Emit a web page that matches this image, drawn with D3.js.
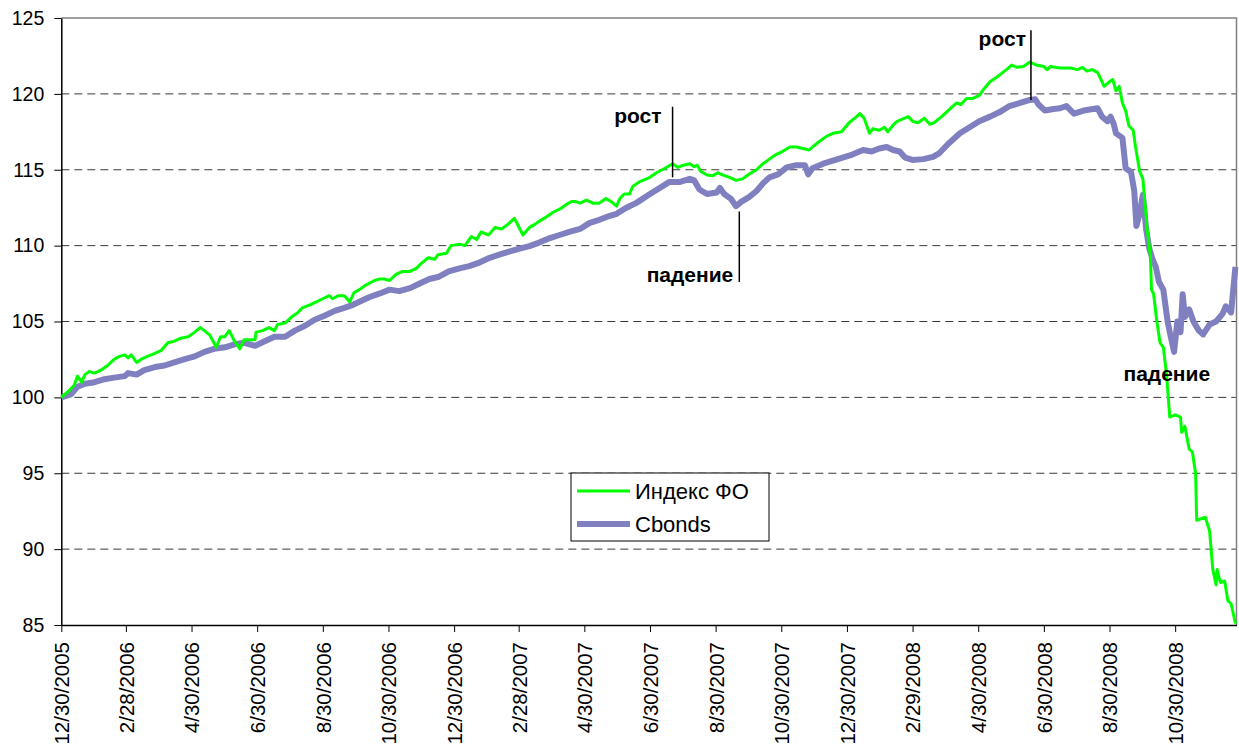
<!DOCTYPE html>
<html>
<head>
<meta charset="utf-8">
<script src="https://cdn.jsdelivr.net/npm/d3@7"></script>
<style>
    body { margin: 0; background: #fff; }
    text { font-family: Arial, "Liberation Sans", sans-serif; }
</style>
</head>
<body>
<div id="chart"></div>
<script>

// Индекс ФО (green)
var foDates = [
    "2005-12-30","2006-01-07","2006-01-11","2006-01-14","2006-01-18","2006-01-21","2006-01-25","2006-01-30","2006-02-05","2006-02-11",
    "2006-02-17","2006-02-22","2006-02-27","2006-03-02","2006-03-05","2006-03-10","2006-03-14","2006-03-20","2006-03-27","2006-04-02",
    "2006-04-08","2006-04-14","2006-04-20","2006-04-27","2006-05-03","2006-05-08","2006-05-12","2006-05-17","2006-05-23","2006-05-27",
    "2006-05-31","2006-06-04","2006-06-09","2006-06-14","2006-06-18","2006-06-23","2006-06-28","2006-06-29","2006-07-05","2006-07-11",
    "2006-07-16","2006-07-19","2006-07-26","2006-08-01","2006-08-07","2006-08-11","2006-08-18","2006-08-24","2006-08-30","2006-09-05",
    "2006-09-08","2006-09-13","2006-09-19","2006-09-24","2006-09-28","2006-10-03","2006-10-09","2006-10-17","2006-10-22","2006-10-26",
    "2006-10-31","2006-11-06","2006-11-12","2006-11-19","2006-11-25","2006-11-29","2006-12-06","2006-12-12","2006-12-15","2006-12-23",
    "2006-12-27","2007-01-04","2007-01-09","2007-01-15","2007-01-20","2007-01-24","2007-01-31","2007-02-06","2007-02-12","2007-02-18",
    "2007-02-24","2007-03-04","2007-03-10","2007-03-15","2007-03-19","2007-03-26","2007-04-01","2007-04-07","2007-04-13","2007-04-18",
    "2007-04-22","2007-04-26","2007-05-02","2007-05-08","2007-05-14","2007-05-20","2007-05-25","2007-05-30","2007-06-02","2007-06-06",
    "2007-06-11","2007-06-14","2007-06-20","2007-06-30","2007-07-06","2007-07-14","2007-07-21","2007-07-26","2007-07-31","2007-08-06",
    "2007-08-10","2007-08-13","2007-08-16","2007-08-22","2007-08-27","2007-09-01","2007-09-06","2007-09-12","2007-09-18","2007-09-24",
    "2007-09-30","2007-10-07","2007-10-13","2007-10-19","2007-10-25","2007-10-31","2007-11-07","2007-11-13","2007-11-19","2007-11-25",
    "2007-11-28","2007-12-05","2007-12-11","2007-12-17","2007-12-25","2008-01-01","2008-01-08","2008-01-11","2008-01-15","2008-01-20",
    "2008-01-23","2008-01-29","2008-02-03","2008-02-06","2008-02-11","2008-02-15","2008-02-20","2008-02-25","2008-02-29","2008-03-05",
    "2008-03-11","2008-03-16","2008-03-20","2008-03-27","2008-04-02","2008-04-10","2008-04-14","2008-04-19","2008-04-25","2008-05-01",
    "2008-05-05","2008-05-11","2008-05-20","2008-05-28","2008-05-31","2008-06-05","2008-06-11","2008-06-17","2008-06-23","2008-06-30",
    "2008-07-03","2008-07-06","2008-07-15","2008-07-25","2008-07-31","2008-08-05","2008-08-09","2008-08-14","2008-08-19","2008-08-22",
    "2008-08-25","2008-08-30","2008-09-02","2008-09-05","2008-09-08","2008-09-11","2008-09-14","2008-09-17","2008-09-21","2008-09-23",
    "2008-09-27","2008-09-30","2008-10-01","2008-10-04","2008-10-07","2008-10-08","2008-10-10","2008-10-13","2008-10-16","2008-10-19",
    "2008-10-22","2008-10-25","2008-10-30","2008-11-04","2008-11-05","2008-11-08","2008-11-12","2008-11-15","2008-11-18","2008-11-19",
    "2008-11-27","2008-12-01","2008-12-04","2008-12-07","2008-12-08","2008-12-11","2008-12-15","2008-12-18","2008-12-21","2008-12-25"
];
var foValues = [
    100.0, 100.5, 100.8, 101.4, 101.0, 101.5, 101.7, 101.6, 101.8, 102.1,
    102.5, 102.7, 102.8, 102.6, 102.8, 102.3, 102.5, 102.7, 102.9, 103.1,
    103.6, 103.7, 103.9, 104.0, 104.3, 104.6, 104.4, 104.1, 103.3, 104.0,
    104.0, 104.4, 103.7, 103.2, 103.8, 103.8, 103.8, 104.3, 104.4, 104.6,
    104.4, 104.8, 104.9, 105.3, 105.6, 105.9, 106.1, 106.3, 106.5, 106.7,
    106.5, 106.7, 106.7, 106.3, 106.9, 107.1, 107.4, 107.7, 107.8, 107.8,
    107.7, 108.1, 108.3, 108.3, 108.5, 108.8, 109.2, 109.1, 109.4, 109.5,
    110.0, 110.1, 110.0, 110.6, 110.4, 110.9, 110.7, 111.2, 111.1, 111.4,
    111.8, 110.7, 111.2, 111.4, 111.6, 111.9, 112.2, 112.4, 112.7, 112.9,
    112.9, 112.8, 113.0, 112.8, 112.8, 113.1, 112.9, 112.6, 113.1, 113.4,
    113.4, 113.9, 114.2, 114.5, 114.8, 115.1, 115.4, 115.15, 115.3, 115.4,
    115.2, 115.3, 114.9, 114.65, 114.6, 114.8, 114.65, 114.5, 114.3, 114.4,
    114.7, 115.0, 115.4, 115.7, 116.0, 116.2, 116.5, 116.5, 116.4, 116.3,
    116.5, 116.9, 117.2, 117.4, 117.5, 118.1, 118.5, 118.7, 118.4, 117.4,
    117.7, 117.6, 117.8, 117.5, 117.95, 118.2, 118.35, 118.5, 118.2, 118.1,
    118.4, 118.0, 118.1, 118.5, 118.9, 119.4, 119.3, 119.7, 119.7, 119.9,
    120.3, 120.8, 121.25, 121.7, 121.9, 121.75, 121.8, 122.1, 121.9, 121.8,
    121.6, 121.8, 121.7, 121.7, 121.6, 121.75, 121.5, 121.6, 121.4, 120.95,
    120.5, 120.8, 120.95, 120.2, 120.5, 119.4, 118.9, 117.9, 117.6, 116.6,
    114.9, 114.4, 113.6, 111.1, 109.3, 107.1, 106.8, 105.0, 103.6, 103.3,
    101.5, 98.7, 98.85, 98.7, 97.7, 98.1, 96.6, 96.4, 95.0, 91.9,
    92.1, 91.2, 88.65, 87.65, 88.65, 87.8, 87.9, 86.6, 86.4, 85.1
];

// Cbonds (violet)
var cbDates = [
    "2005-12-30","2006-01-08","2006-01-14","2006-01-21","2006-01-30","2006-02-08","2006-02-17","2006-02-27","2006-03-02","2006-03-10",
    "2006-03-17","2006-03-27","2006-04-05","2006-04-14","2006-04-23","2006-05-03","2006-05-12","2006-05-21","2006-05-31","2006-06-09",
    "2006-06-18","2006-06-28","2006-07-07","2006-07-16","2006-07-26","2006-08-04","2006-08-13","2006-08-22","2006-09-01","2006-09-10",
    "2006-09-19","2006-09-27","2006-10-03","2006-10-12","2006-10-22","2006-10-31","2006-11-09","2006-11-19","2006-11-28","2006-12-07",
    "2006-12-16","2006-12-25","2007-01-04","2007-01-13","2007-01-23","2007-02-01","2007-02-10","2007-02-19","2007-03-01","2007-03-10",
    "2007-03-19","2007-03-29","2007-04-07","2007-04-16","2007-04-26","2007-05-05","2007-05-14","2007-05-23","2007-05-30","2007-06-08",
    "2007-06-17","2007-06-30","2007-07-09","2007-07-18","2007-07-28","2007-08-06","2007-08-10","2007-08-15","2007-08-22","2007-08-31",
    "2007-09-03","2007-09-07","2007-09-13","2007-09-18","2007-09-23","2007-09-30","2007-10-07","2007-10-13","2007-10-19","2007-10-27",
    "2007-11-04","2007-11-13","2007-11-21","2007-11-24","2007-11-28","2007-12-08","2007-12-17","2007-12-26","2008-01-04","2008-01-14",
    "2008-01-22","2008-01-29","2008-02-05","2008-02-11","2008-02-17","2008-02-22","2008-02-29","2008-03-10","2008-03-19","2008-03-25",
    "2008-04-02","2008-04-13","2008-04-22","2008-05-01","2008-05-11","2008-05-20","2008-05-29","2008-06-08","2008-06-17","2008-06-22",
    "2008-06-25","2008-07-01","2008-07-09","2008-07-15","2008-07-21","2008-07-28","2008-08-06","2008-08-19","2008-08-23","2008-08-28",
    "2008-08-31","2008-09-03","2008-09-05","2008-09-11","2008-09-14","2008-09-19","2008-09-22","2008-09-24","2008-09-27","2008-09-30",
    "2008-10-03","2008-10-06","2008-10-09","2008-10-12","2008-10-15","2008-10-19","2008-10-23","2008-10-25","2008-10-29","2008-11-01",
    "2008-11-04","2008-11-06","2008-11-08","2008-11-12","2008-11-16","2008-11-21","2008-11-25","2008-12-01","2008-12-07","2008-12-13",
    "2008-12-16","2008-12-21","2008-12-25"
];
var cbValues = [
    100.0, 100.2, 100.7, 100.9, 101.0, 101.2, 101.3, 101.4, 101.6, 101.5,
    101.8, 102.0, 102.1, 102.3, 102.5, 102.7, 103.0, 103.2, 103.3, 103.5,
    103.6, 103.4, 103.7, 104.0, 104.0, 104.4, 104.7, 105.1, 105.4, 105.7,
    105.9, 106.1, 106.3, 106.6, 106.85, 107.1, 107.0, 107.2, 107.5, 107.8,
    107.95, 108.3, 108.5, 108.65, 108.9, 109.2, 109.4, 109.6, 109.8, 109.97,
    110.2, 110.5, 110.7, 110.9, 111.1, 111.5, 111.7, 111.95, 112.1, 112.5,
    112.8, 113.4, 113.8, 114.2, 114.2, 114.4, 114.3, 113.7, 113.4, 113.5,
    113.8, 113.4, 113.1, 112.6, 112.9, 113.2, 113.6, 114.1, 114.5, 114.7,
    115.15, 115.3, 115.3, 114.7, 115.1, 115.4, 115.6, 115.8, 116.0, 116.3,
    116.2, 116.4, 116.5, 116.3, 116.2, 115.8, 115.65, 115.7, 115.85, 116.1,
    116.7, 117.4, 117.8, 118.2, 118.5, 118.8, 119.2, 119.4, 119.6, 119.65,
    119.3, 118.9, 119.0, 119.05, 119.2, 118.7, 118.9, 119.05, 118.5, 118.2,
    118.5, 118.0, 117.4, 117.1, 115.1, 114.85, 113.6, 111.3, 112.1, 113.35,
    111.1, 109.8, 109.1, 108.6, 107.6, 107.1, 105.0, 104.3, 103.0, 105.0,
    104.3, 106.8, 105.3, 105.8, 105.0, 104.4, 104.15, 104.8, 105.0, 105.5,
    106.0, 105.6, 108.6
];

var seriesNames = ["Индекс ФО", "Cbonds"];
var seriesColors = ["#00ff00", "#8080c0"];

var tickDates = [
    "2005-12-30","2006-02-28","2006-04-30","2006-06-30","2006-08-30","2006-10-30",
    "2006-12-30","2007-02-28","2007-04-30","2007-06-30","2007-08-30","2007-10-30",
    "2007-12-30","2008-02-29","2008-04-30","2008-06-30","2008-08-30","2008-10-30"
];
var yTicks = [85, 90, 95, 100, 105, 110, 115, 120, 125];

// annotation marks: date of the pointer, value range of the pointer line
var notes = [
    {text: "рост",    date: "2007-07-21", from: 119.15, to: 114.5,  dx: -11},
    {text: "падение", date: "2007-09-21", from: 112.25, to: 107.6,  dx: -6},
    {text: "рост",    date: "2008-06-18", from: 124.2,  to: 119.6,  dx: -5},
    {text: "падение", date: "2008-09-12", from: null,   to: 101.1,  dx: 0}
];

var parse = d3.timeParse("%Y-%m-%d");
var fmt = d3.timeFormat("%-m/%-d/%Y");

var W = 1239, H = 747;
var plotLeft = 61.3, plotRight = 1236.5, plotTop = 18, plotBottom = 625;

var x = d3.scaleTime()
    .domain([parse("2005-12-30"), parse("2008-12-26")])
    .range([plotLeft, plotRight]);
var y = d3.scaleLinear().domain([85, 125]).range([plotBottom, plotTop]);

var svg = d3.select("#chart").append("svg")
    .attr("width", W).attr("height", H);

// grid
svg.append("g").selectAll("line")
    .data(yTicks.filter(function (d) { return d > 85 && d < 125; }))
    .enter().append("line")
    .attr("x1", plotLeft).attr("x2", plotRight)
    .attr("y1", function (d) { return y(d); })
    .attr("y2", function (d) { return y(d); })
    .attr("stroke", "#3a3a3a")
    .attr("stroke-width", 1)
    .attr("stroke-dasharray", "8,5");

// plot border (top/right grey)
svg.append("path")
    .attr("d", "M" + plotLeft + "," + y(125) + "H" + plotRight + "V" + plotBottom)
    .attr("fill", "none").attr("stroke", "#808080").attr("stroke-width", 1.5);

// y axis
var yAxis = svg.append("g")
    .attr("transform", "translate(" + plotLeft + ",0)")
    .call(d3.axisLeft(y).tickValues(yTicks).tickSize(7).tickPadding(10).tickSizeOuter(0));
yAxis.select(".domain").attr("stroke", "#000").attr("stroke-width", 1.5);
yAxis.selectAll(".tick line").attr("stroke", "#000");
yAxis.selectAll("text").attr("font-size", "19.5px").attr("fill", "#000")
    .attr("font-family", "Arial, 'Liberation Sans', sans-serif");

// x axis
var xAxis = svg.append("g")
    .attr("transform", "translate(0," + plotBottom + ")")
    .call(d3.axisBottom(x).tickValues(tickDates.map(parse)).tickFormat(fmt).tickSize(7).tickSizeOuter(0));
xAxis.select(".domain").attr("stroke", "#000").attr("stroke-width", 1.5);
xAxis.selectAll(".tick line").attr("stroke", "#000");
xAxis.selectAll("text")
    .attr("font-size", "20.5px").attr("fill", "#000")
    .attr("font-family", "Arial, 'Liberation Sans', sans-serif")
    .attr("transform", "rotate(-90)")
    .attr("text-anchor", "end")
    .attr("x", -17).attr("y", 0).attr("dy", "0.36em");

// series
var line = d3.line()
    .x(function (d) { return x(d.date); })
    .y(function (d) { return y(d.value); });

function toPoints(dates, values) {
    return dates.map(function (d, i) { return {date: parse(d), value: values[i]}; });
}

svg.append("path")
    .datum(toPoints(cbDates, cbValues))
    .attr("d", line)
    .attr("fill", "none")
    .attr("stroke", seriesColors[1])
    .attr("stroke-width", 6)
    .attr("stroke-linejoin", "round");

svg.append("path")
    .datum(toPoints(foDates, foValues))
    .attr("d", line)
    .attr("fill", "none")
    .attr("stroke", seriesColors[0])
    .attr("stroke-width", 3)
    .attr("stroke-linejoin", "round");

// annotations
notes.forEach(function (n) {
    var nx = x(parse(n.date));
    if (n.from != null) {
        svg.append("line")
            .attr("x1", nx).attr("x2", nx)
            .attr("y1", y(n.from)).attr("y2", y(n.to))
            .attr("stroke", "#000").attr("stroke-width", 1.5);
        var ty = n.text == "падение" ? y(n.to) : y(n.from) + 16;
        svg.append("text")
            .attr("x", nx + n.dx).attr("y", ty)
            .attr("text-anchor", "end")
            .attr("font-size", "21px").attr("font-weight", "bold")
            .text(n.text);
    } else {
        svg.append("text")
            .attr("x", nx).attr("y", y(n.to))
            .attr("font-size", "21px").attr("font-weight", "bold")
            .text(n.text);
    }
});

// legend
var lg = svg.append("g").attr("transform", "translate(571,473)");
lg.append("rect")
    .attr("width", 198).attr("height", 68)
    .attr("fill", "#fff").attr("stroke", "#000").attr("stroke-width", 1);
seriesNames.forEach(function (name, i) {
    var ly = 18 + i * 33;
    lg.append("line")
        .attr("x1", 6).attr("x2", 59).attr("y1", ly).attr("y2", ly)
        .attr("stroke", seriesColors[i]).attr("stroke-width", i == 0 ? 3 : 6);
    lg.append("text")
        .attr("x", 64).attr("y", ly + 8)
        .attr("font-size", "22px")
        .text(name);
});

</script>
</body>
</html>
